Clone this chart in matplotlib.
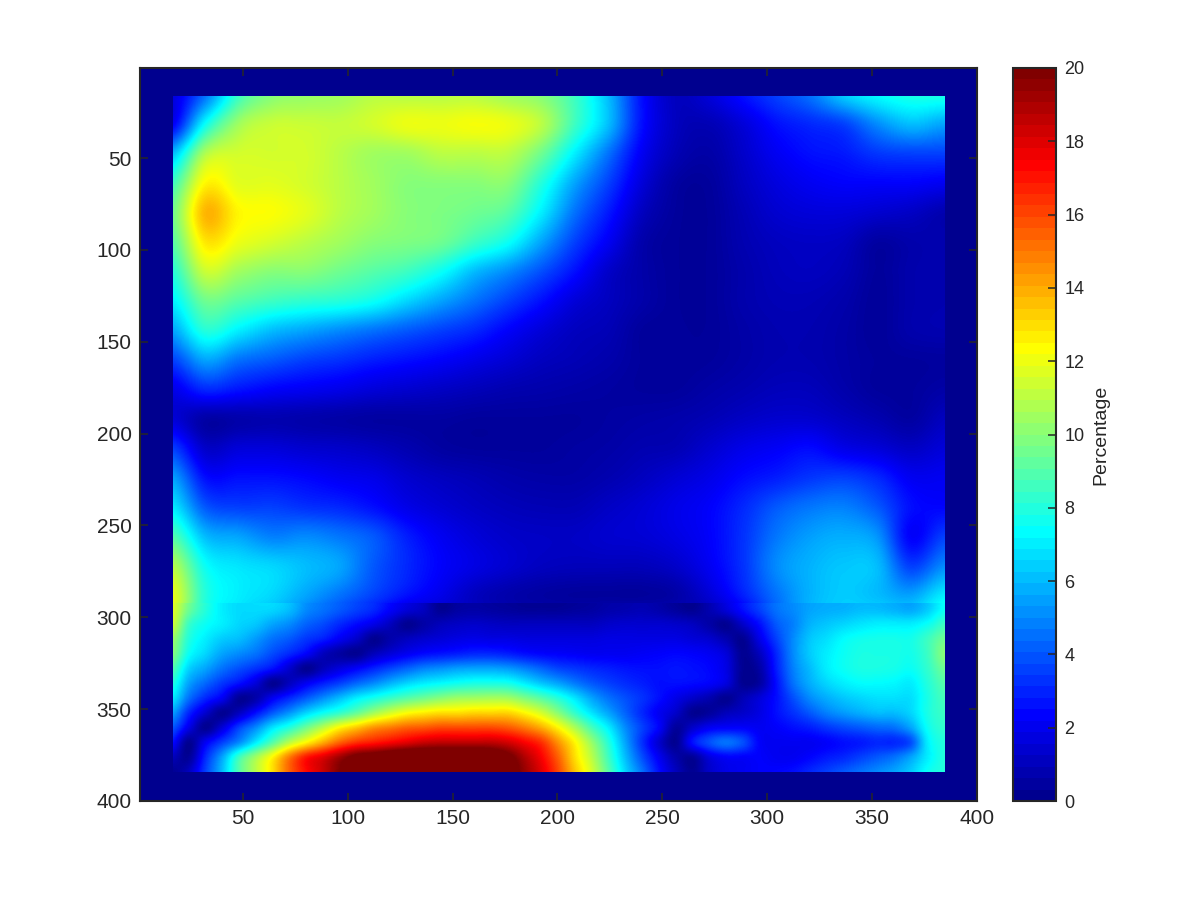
import numpy as np
import matplotlib
matplotlib.use("Agg")
import matplotlib.pyplot as plt
from matplotlib.cm import ScalarMappable
from matplotlib.colors import LinearSegmentedColormap, Normalize
from matplotlib.patches import Rectangle

plt.rcParams["font.family"] = ["Liberation Sans", "DejaVu Sans"]

# values
# upper part: one row every 16 units from y=16 to y=304, one column every 16 units from x=16
top_start = 16
top_step = 16
percentage_top = [
    [1.5, 4.5, 8.5, 10, 10.3, 10.5, 11, 11, 11, 11, 10.5, 10, 8.5, 6.0, 2.5, 1.0, 1.5, 2.5, 3.5, 4.5, 6.3, 7.3, 7.8, 7.8],
    [2.0, 7.5, 10.5, 11.3, 11.3, 11.2, 11.5, 12, 12, 12.2, 12, 11, 8.5, 6.0, 2.5, 1.0, 0.8, 1.5, 2.5, 3.0, 3.5, 5.0, 6.0, 5.5],
    [6.0, 10.8, 11.5, 11.5, 11.5, 11, 10.5, 10.5, 11, 11, 11, 9.5, 7.0, 4.5, 2.0, 0.8, 0.5, 1.2, 2.0, 2.5, 2.7, 3.3, 3.5, 3.5],
    [8.5, 12.5, 11.8, 11.8, 11.5, 11, 10.5, 10, 10, 10, 10, 8.0, 5.5, 3.5, 1.5, 0.4, 0.3, 1.0, 1.6, 2.0, 2.2, 2.2, 2.2, 2.0],
    [9.5, 13.8, 12.5, 12.3, 11.8, 11, 10.5, 10, 9.8, 9.5, 9.0, 7.0, 4.5, 2.7, 1.0, 0.3, 0.25, 0.8, 1.3, 1.5, 1.5, 1.3, 1.1, 0.7],
    [9.0, 12.8, 12, 11.5, 11, 10.5, 10, 9.8, 9.5, 8.5, 7.5, 5.5, 3.5, 2.0, 0.6, 0.25, 0.25, 0.7, 1.0, 1.1, 1.0, 0.4, 0.6, 0.7],
    [8.0, 11.3, 10.5, 10, 10, 9.5, 9.0, 8.5, 7.5, 6.0, 5.0, 3.8, 2.5, 1.2, 0.55, 0.25, 0.25, 0.6, 0.9, 1.0, 0.8, 0.3, 0.6, 0.7],
    [7.0, 9.5, 9.0, 8.5, 8.2, 8.0, 7.5, 6.5, 5.5, 4.5, 3.5, 2.5, 1.5, 1.0, 0.55, 0.25, 0.25, 0.6, 0.8, 0.8, 0.6, 0.25, 0.6, 0.7],
    [5.5, 8.0, 7.0, 6.0, 5.5, 5.0, 4.5, 4.0, 3.5, 3.0, 2.2, 1.5, 1.0, 0.8, 0.3, 0.25, 0.25, 0.5, 0.7, 0.7, 0.5, 0.25, 0.6, 0.7],
    [3.5, 5.5, 4.5, 4.0, 3.5, 3.2, 2.8, 2.5, 2.2, 1.8, 1.4, 1.0, 0.8, 0.6, 0.3, 0.25, 0.3, 0.5, 0.7, 0.7, 0.5, 0.3, 0.3, 0.35],
    [1.8, 3.0, 2.6, 2.2, 2.0, 1.8, 1.5, 1.3, 1.1, 0.9, 0.7, 0.6, 0.5, 0.4, 0.3, 0.3, 0.5, 0.7, 0.9, 0.9, 0.6, 0.3, 0.3, 0.5],
    [1.5, 0.5, 0.6, 0.7, 0.6, 0.5, 0.4, 0.4, 0.4, 0.3, 0.3, 0.3, 0.3, 0.4, 0.5, 0.6, 0.8, 1.1, 1.3, 1.3, 1.0, 0.7, 0.4, 1.0],
    [3.5, 1.2, 1.5, 1.5, 1.3, 1.2, 1.0, 0.7, 0.4, 0.3, 0.3, 0.3, 0.4, 0.5, 0.7, 0.8, 1.3, 1.8, 2.1, 2.4, 1.8, 1.5, 1.1, 1.5],
    [5.5, 2.5, 2.5, 2.5, 2.3, 2.0, 1.8, 1.3, 1.0, 0.8, 0.6, 0.5, 0.5, 0.7, 1.0, 1.4, 1.8, 2.4, 2.8, 3.3, 3.5, 3.0, 2.0, 2.0],
    [7.0, 4.0, 3.5, 3.5, 3.2, 3.0, 2.5, 1.8, 1.4, 1.1, 0.9, 0.8, 0.8, 1.1, 1.4, 1.8, 2.2, 3.0, 4.0, 4.6, 4.8, 4.0, 2.5, 2.3],
    [9.0, 6.0, 5.5, 4.8, 5.0, 4.6, 4.0, 2.8, 2.0, 1.5, 1.2, 1.1, 1.1, 1.3, 1.4, 1.7, 2.2, 3.2, 4.6, 5.4, 5.7, 5.2, 2.2, 3.5],
    [11, 7.5, 6.8, 6.5, 6.0, 5.5, 4.0, 3.0, 2.2, 1.7, 1.3, 1.0, 0.9, 0.9, 0.9, 1.2, 2.0, 3.2, 5.0, 5.8, 6.2, 6.0, 3.5, 5.0],
    [12, 8.0, 7.0, 6.5, 5.5, 4.5, 3.5, 2.5, 1.8, 1.0, 0.6, 0.4, 0.3, 0.3, 0.3, 0.5, 1.4, 2.8, 4.5, 5.8, 6.3, 6.0, 5.5, 7.0],
    [11.5, 7.5, 6.5, 5.5, 4.2, 3.0, 1.8, 0.4, 0.9, 1.2, 1.0, 1.0, 1.0, 1.2, 1.3, 1.2, 0.5, 1.2, 4.0, 6.0, 6.5, 7.0, 7.0, 8.5],
]

# lower part: one row every 8 units from y=296 to y=384, one column every 8 units from x=16
low_start_x = 16
low_start_y = 296
low_step = 8
percentage_low = [
    [11.8, 9.5, 8, 7, 6.6, 6.6, 6.5, 6, 5, 4.5, 4, 3.5, 3, 2.2, 1.5, 1, 0.1, 0.4, 0.5, 0.4, 0.3, 0.2, 0.2, 0.2, 0.3, 0.4, 0.6, 0.7, 0.8, 0.6, 0.3, 0.1, 0.7, 1.5, 2.5, 3.5, 4.5, 5, 5.5, 5.7, 5.8, 6, 6, 5.8, 5.6, 6.3, 7.5],
    [11.5, 8.5, 7.5, 7, 6.5, 6.2, 5.5, 5, 4.2, 3.7, 3, 2.4, 1.8, 1, 0.1, 0.5, 0.9, 1.1, 1.2, 1.1, 1, 1, 1, 1, 1, 1, 1.2, 1.3, 1.3, 1.3, 1.2, 1, 0.5, 0.1, 1.2, 2.5, 4, 4.8, 5.8, 6.2, 6.5, 6.8, 7, 7, 7, 7.5, 8.5],
    [10.5, 8, 7, 6.3, 6, 5.3, 4.5, 4, 3.3, 2.8, 2, 1.2, 0.1, 0.6, 1, 1.3, 1.5, 1.7, 1.8, 1.7, 1.7, 1.6, 1.6, 1.6, 1.6, 1.6, 1.7, 1.7, 1.7, 1.7, 1.7, 1.5, 1.3, 0.7, 0.1, 1.8, 3.5, 5, 6.2, 6.7, 7.3, 7.6, 7.7, 7.7, 7.7, 8.5, 9.5],
    [10, 7.5, 6.5, 5.5, 5, 4.5, 3.7, 3, 2.2, 1, 0.4, 0.1, 0.9, 1.5, 2, 2.4, 2.6, 2.8, 3, 3, 2.8, 2.5, 2.3, 2.2, 2.1, 2, 2, 2, 2.1, 2.2, 2.3, 2.2, 2, 1.5, 0.1, 1, 3, 5, 6.3, 7, 7.5, 7.8, 7.8, 7.8, 7.7, 8.5, 10],
    [9, 6.5, 5.5, 4.5, 3.8, 3.2, 2.5, 1.3, 0.1, 0.9, 1.6, 2.2, 2.9, 3.6, 4.2, 4.8, 5.1, 5.4, 5.5, 5.5, 5.3, 4.8, 4.2, 3.6, 3.3, 3, 2.8, 2.6, 2.5, 2.5, 2.6, 2.5, 2.3, 1.7, 0.1, 0.5, 2.8, 4.8, 6, 7, 7.5, 7.8, 7.8, 7.7, 7.5, 8.3, 9.5],
    [8, 5.5, 4.3, 3.3, 2.5, 1.5, 0.1, 1, 2, 2.8, 3.5, 4.3, 5, 5.8, 6.5, 7, 7.3, 7.6, 7.8, 7.8, 7.7, 7, 6.2, 5.5, 4.7, 4, 3.5, 3.1, 2.8, 2.5, 2.5, 2.4, 2.2, 1.6, 0.1, 0.4, 2.5, 4.5, 5.7, 6.5, 7, 7.3, 7.3, 7.2, 7, 8, 9],
    [7, 4.5, 3, 2, 0.2, 0.6, 2, 3, 4, 5, 6, 7, 7.7, 8.4, 9, 9.5, 10, 10.4, 10.5, 10.6, 10.5, 9.8, 9, 8, 6.8, 5.5, 4.5, 3.8, 3.2, 2.5, 1.8, 1.2, 0.7, 0.1, 0.8, 1.5, 2.5, 3.8, 5, 5.7, 6.2, 6.5, 6.7, 6.7, 6.7, 7.8, 8.7],
    [5.5, 3, 1.3, 0.1, 1, 2.5, 4, 5.2, 6.5, 7.5, 8.3, 9.3, 10.5, 11.5, 12.3, 12.7, 13, 13, 13.2, 13.2, 13.2, 12.5, 11.5, 10, 8.3, 6.8, 5.5, 4.2, 3, 2, 1.2, 0.1, 0.3, 0.9, 1.2, 1.7, 2.5, 3.2, 4, 4.8, 5.3, 5.7, 6, 6, 6.5, 7.8, 8.5],
    [4, 1.8, 0.1, 1.5, 3.5, 5, 6.8, 8, 9.5, 11, 12.5, 13.5, 14.5, 15, 15.5, 15.7, 16, 16, 16, 16, 15.7, 15, 14, 12.5, 10.7, 8.7, 7, 5, 3.5, 2.2, 0.3, 1.2, 2, 2.2, 2.2, 2, 2.2, 2.5, 2.8, 3.3, 3.7, 4, 4.3, 4.5, 5.5, 7.5, 8.3],
    [2.5, 0.1, 2, 3.5, 5, 7, 9, 11, 12.5, 14, 15.5, 16.5, 17, 17.5, 18, 18.5, 18.7, 18.7, 18.7, 18.7, 18.3, 17.5, 16.5, 14.5, 12.5, 10.3, 8, 5.5, 3.2, 1.3, 0.1, 2.5, 3.8, 4.5, 3.8, 2.2, 2, 2, 2, 2.2, 2.5, 2.7, 3, 3, 3.8, 7, 8],
    [1, 0.2, 3, 5.5, 8.5, 10.5, 12.5, 15, 17, 18, 19.3, 20.5, 21, 21.5, 22, 22, 22, 22, 22, 21.5, 20.5, 19, 17.5, 15.5, 13, 11, 8.5, 6, 3.8, 2, 0.6, 0.2, 1.6, 2.2, 2.2, 2.2, 2, 2, 2.3, 2.7, 3, 3.5, 4, 4.5, 5.5, 7, 8],
    [0.1, 1, 3.5, 6, 9, 11, 13, 15.5, 17.3, 18.5, 20, 21, 22, 22, 22.5, 23, 23, 23, 23, 22, 21, 19.5, 18, 16, 13.5, 11.5, 9, 6.5, 4.5, 2.5, 1, 0.1, 1.2, 1.8, 2, 2.2, 2.3, 2.5, 3, 3.5, 4, 4.5, 5, 5.5, 6.3, 7.5, 8],
]
seam_y = 292

x_ticks = [50, 100, 150, 200, 250, 300, 350, 400]
y_ticks = [50, 100, 150, 200, 250, 300, 350, 400]
cbar_ticks = [0, 2, 4, 6, 8, 10, 12, 14, 16, 18, 20]

# MATLAB style jet
jet_nodes = [(0.0, (0, 0, 0.5625)), (0.111, (0, 0, 1)), (0.365, (0, 1, 1)),
             (0.619, (1, 1, 0)), (0.873, (1, 0, 0)), (1.0, (0.5, 0, 0))]
jet_smooth = LinearSegmentedColormap.from_list("jet_smooth", jet_nodes, N=256)
jet64 = LinearSegmentedColormap.from_list("jet64", jet_nodes, N=64)
text_col = "#262626"

W, H = 1200, 900
fig = plt.figure(figsize=(12, 9), dpi=100)
ax = fig.add_axes([140 / W, 1 - 801 / H, (977 - 140) / W, (801 - 68) / H])
ax.set_facecolor(jet64(0))


def draw_block(values, x0, y0, step, clip_y0, clip_y1):
    rows, cols = np.shape(values)
    extent = (x0 - step / 2, x0 + step * (cols - 1) + step / 2,
              y0 + step * (rows - 1) + step / 2, y0 - step / 2)
    # catrom goes through the grid values, bicubic blurs them
    im = ax.imshow(values, cmap=jet_smooth, vmin=0, vmax=20, extent=extent, aspect="auto",
                   interpolation="catrom", interpolation_stage="data")
    # the coloured part stops short of the axes on all sides
    im.set_clip_path(Rectangle((16.5, clip_y0), 367.7, clip_y1 - clip_y0, transform=ax.transData))


draw_block(percentage_top, top_start, top_start, top_step, 16, seam_y)
draw_block(percentage_low, low_start_x, low_start_y, low_step, seam_y, 384)

ax.set_xlim(1, 400)
ax.set_ylim(400, 1)
ax.set_xticks(x_ticks)
ax.set_yticks(y_ticks)
ax.tick_params(direction="in", top=True, right=True, length=5.5, width=1.1, color=text_col,
               labelsize=15, labelcolor=text_col, pad=6)
for s in ax.spines.values():
    s.set_linewidth(1.5)
    s.set_color(text_col)

cax = fig.add_axes([1013 / W, 1 - 801 / H, (1056 - 1013) / W, (801 - 68) / H])
cb = fig.colorbar(ScalarMappable(Normalize(0, 20), jet64), cax=cax, ticks=cbar_ticks)
cb.ax.tick_params(direction="in", right=True, length=5.5, width=1.1, color=text_col,
                  labelsize=13, labelcolor=text_col, pad=6)
cb.outline.set_linewidth(1.5)
cb.outline.set_edgecolor(text_col)
cb.set_label("Percentage", fontsize=14, color=text_col, labelpad=6)

fig.savefig("out.png", dpi=100)
